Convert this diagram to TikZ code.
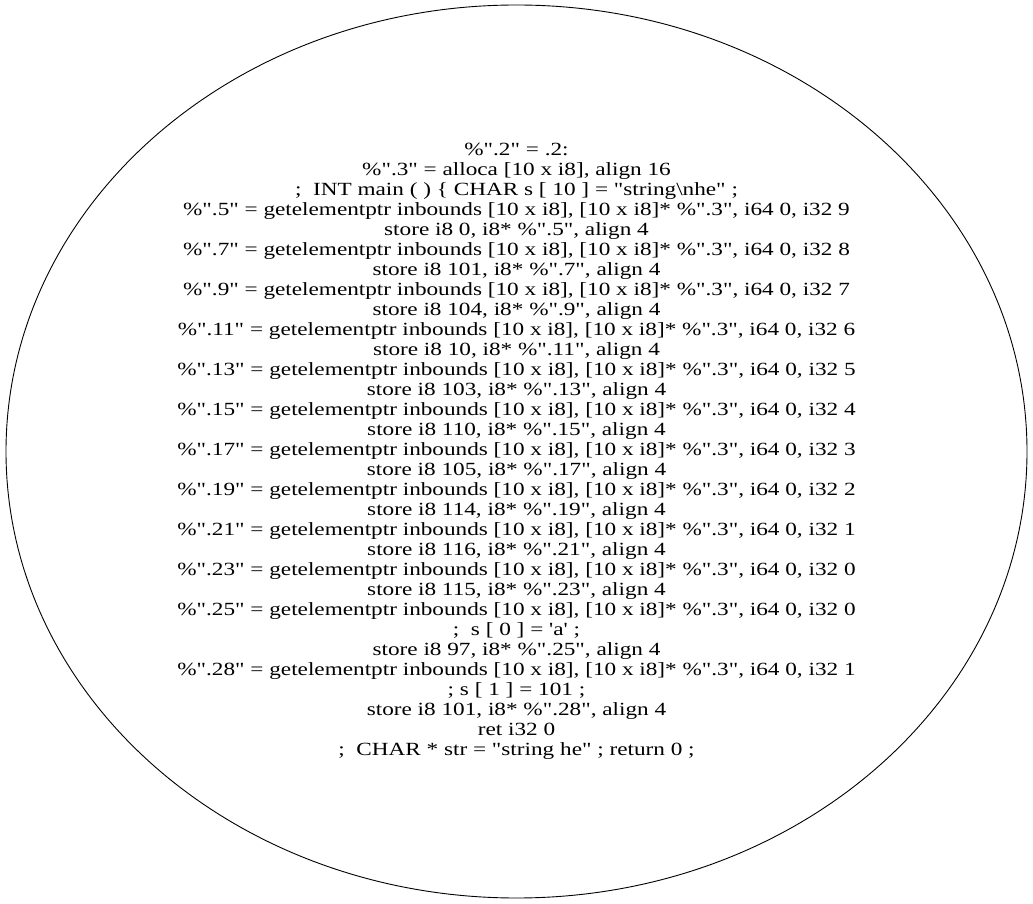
\documentclass[tikz,border=0pt]{standalone}
\usepackage{fontspec}
\newfontfamily\gvfont{Liberation Serif}[FakeStretch=1.248]
\usetikzlibrary{shapes.geometric}
\begin{document}
\begin{tikzpicture}[x=1pt,y=1pt]
\useasboundingbox (0,0) rectangle (1033,903);
\tikzset{block/.style={draw=black, line width=0.9pt, ellipse, inner sep=0pt,
  minimum width=1021pt, minimum height=893pt, align=center,
  font=\gvfont\fontsize{18.6}{20}\selectfont}}
\node[block] (main) at (516.5,451.5) {\%".2" = .2:\\
\%".3" = alloca [10 x i8], align 16\\
;\ \ INT main ( ) \{ CHAR s [ 10 ] = "string\textbackslash nhe" ;\\
\%".5" = getelementptr inbounds [10 x i8], [10 x i8]* \%".3", i64 0, i32 9\\
store i8 0, i8* \%".5", align 4\\
\%".7" = getelementptr inbounds [10 x i8], [10 x i8]* \%".3", i64 0, i32 8\\
store i8 101, i8* \%".7", align 4\\
\%".9" = getelementptr inbounds [10 x i8], [10 x i8]* \%".3", i64 0, i32 7\\
store i8 104, i8* \%".9", align 4\\
\%".11" = getelementptr inbounds [10 x i8], [10 x i8]* \%".3", i64 0, i32 6\\
store i8 10, i8* \%".11", align 4\\
\%".13" = getelementptr inbounds [10 x i8], [10 x i8]* \%".3", i64 0, i32 5\\
store i8 103, i8* \%".13", align 4\\
\%".15" = getelementptr inbounds [10 x i8], [10 x i8]* \%".3", i64 0, i32 4\\
store i8 110, i8* \%".15", align 4\\
\%".17" = getelementptr inbounds [10 x i8], [10 x i8]* \%".3", i64 0, i32 3\\
store i8 105, i8* \%".17", align 4\\
\%".19" = getelementptr inbounds [10 x i8], [10 x i8]* \%".3", i64 0, i32 2\\
store i8 114, i8* \%".19", align 4\\
\%".21" = getelementptr inbounds [10 x i8], [10 x i8]* \%".3", i64 0, i32 1\\
store i8 116, i8* \%".21", align 4\\
\%".23" = getelementptr inbounds [10 x i8], [10 x i8]* \%".3", i64 0, i32 0\\
store i8 115, i8* \%".23", align 4\\
\%".25" = getelementptr inbounds [10 x i8], [10 x i8]* \%".3", i64 0, i32 0\\
;\ \ s [ 0 ] = 'a' ;\\
store i8 97, i8* \%".25", align 4\\
\%".28" = getelementptr inbounds [10 x i8], [10 x i8]* \%".3", i64 0, i32 1\\
; s [ 1 ] = 101 ;\\
store i8 101, i8* \%".28", align 4\\
ret i32 0\\
;\ \ CHAR * str = "string he" ; return 0 ;};
\end{tikzpicture}
\end{document}
